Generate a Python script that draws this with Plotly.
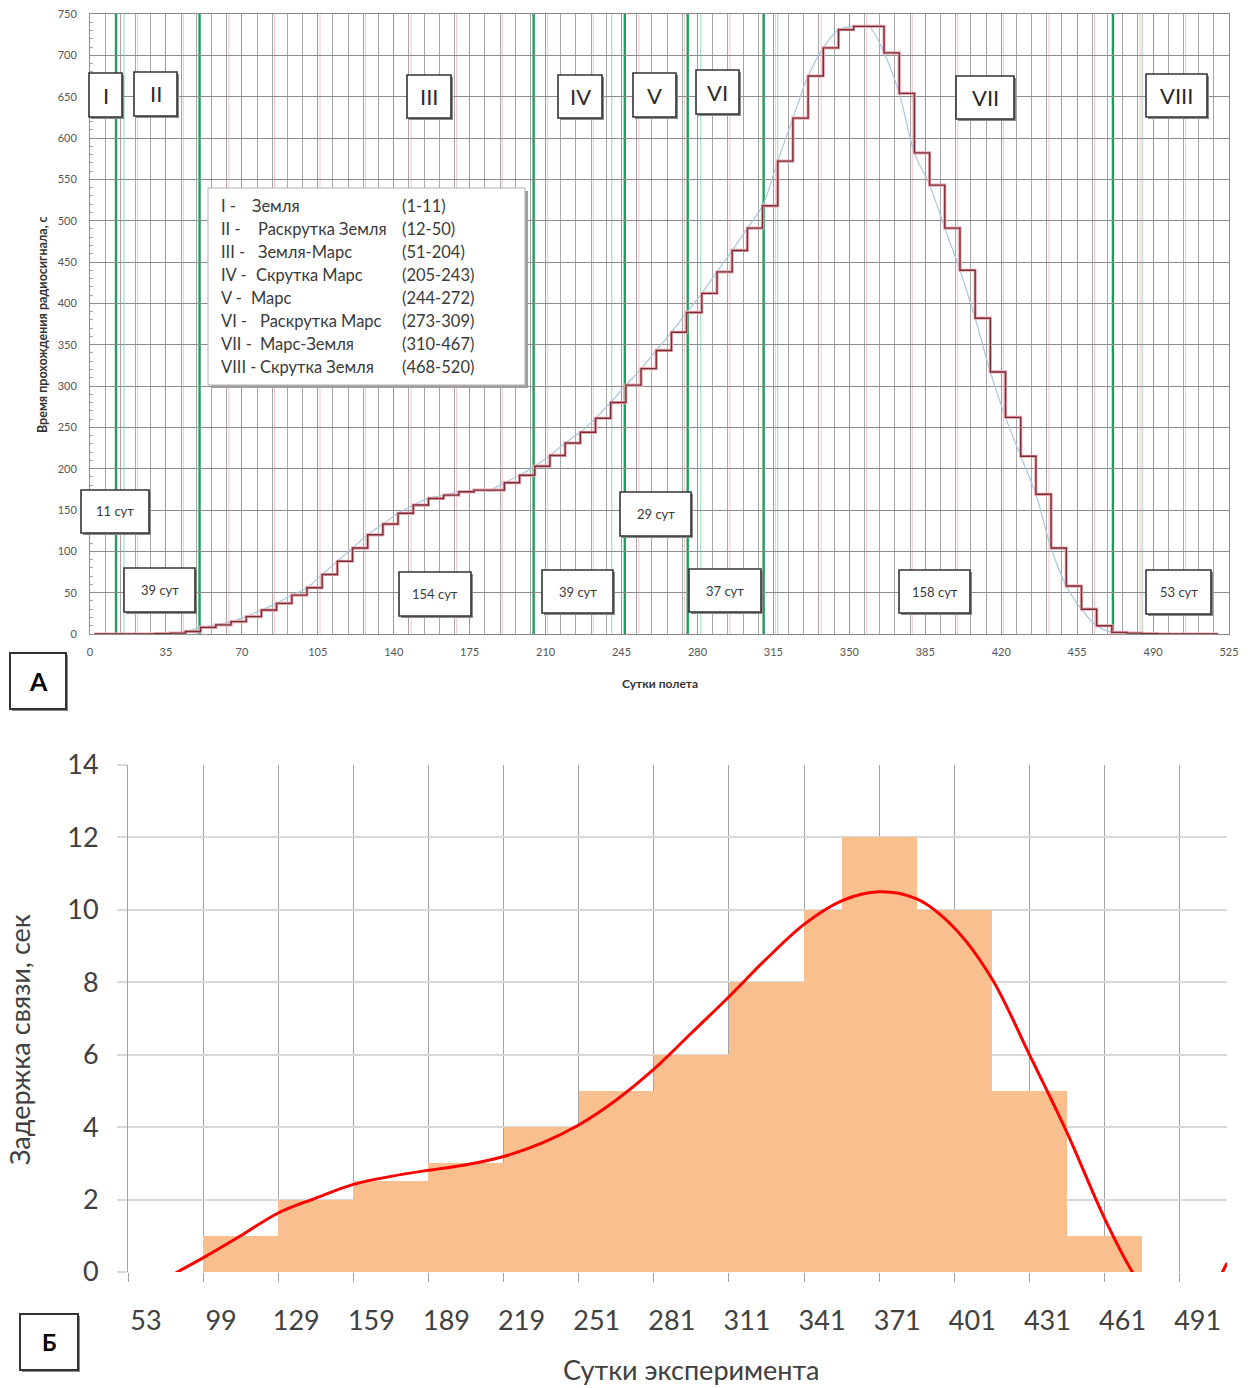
import plotly.graph_objects as go

W, H = 1254, 1388
FONT = "Lato, 'Open Sans', sans-serif"

# ---------- Panel A: signal travel time over the flight ----------
step_days = [2, 9, 16, 23, 30, 37, 44, 51, 58, 65, 72, 79, 86, 93, 100, 107, 114,
             121, 128, 135, 142, 149, 156, 163, 170, 177, 184, 191, 198, 205, 212,
             219, 226, 233, 240, 247, 254, 261, 268, 275, 282, 289, 296, 303, 310,
             317, 324, 331, 338, 345, 352, 359, 366, 373, 380, 387, 394, 401, 408,
             415, 422, 429, 436, 443, 450, 457, 464, 471, 478, 485, 492, 499, 506,
             513, 520]
signal_time = [0, 0, 0, 0, 0.5, 1, 3, 8, 11, 15, 21, 29, 37, 47, 56, 72, 88,
               104, 120, 133, 146, 156, 164, 168, 172, 174, 174, 183, 192, 203, 216,
               231, 244, 261, 280, 301, 321, 343, 365, 389, 412, 438, 464, 491, 518,
               572, 624, 675, 709, 731, 735, 735, 703, 654, 582, 543, 491, 440, 382,
               317, 262, 215, 169, 104, 58, 30, 10, 2, 1, 0.5, 0, 0, 0,
               0, 0]

phase_bounds = [12, 50.5, 204.5, 246.5, 275.5, 310.5, 471.5]
overlay_bounds = [15.7, 240.5, 281.5, 317, 485]
overlay_grid = [22, 43, 64, 85, 106, 127, 148, 169, 190, 211, 232, 253, 274, 295,
                316, 337, 358, 379, 400, 421, 442, 463, 484, 505]

phase_names = ["I", "II", "III", "IV", "V", "VI", "VII", "VIII"]
phase_durations = ["11 сут", "39 сут", "154 сут", "39 сут", "29 сут", "37 сут", "158 сут", "53 сут"]
legend_prefix = ["I -", "II -", "III -", "IV -", "V -", "VI -", "VII -", "VIII -"]
legend_names = ["Земля", "Раскрутка Земля", "Земля-Марс", "Скрутка Марс", "Марс",
                "Раскрутка Марс", "Марс-Земля", "Скрутка Земля"]
legend_ranges = ["(1-11)", "(12-50)", "(51-204)", "(205-243)", "(244-272)",
                 "(273-309)", "(310-467)", "(468-520)"]

# ---------- Panel Б: communication delay ----------
day_labels = ["53", "99", "129", "159", "189", "219", "251", "281", "311", "341",
              "371", "401", "431", "461", "491"]
bin_left = [1, 2, 3, 4, 5, 6, 7, 8, 9, 9.5, 10.5, 11.5, 12.5]
bin_right = [2, 3, 4, 5, 6, 7, 8, 9, 9.5, 10.5, 11.5, 12.5, 13.5]
delay_sec = [1, 2, 2.5, 3, 4, 5, 6, 8, 10, 12, 10, 5, 1]

trend_x = [0.4, 0.66, 1.0, 1.5, 2.0, 2.5, 3.0, 3.5, 4.0, 4.5, 5.0, 5.5, 6.0, 6.5,
           7.0, 7.5, 8.0, 8.5, 9.0, 9.5, 10.0, 10.5, 11.0, 11.5, 12.0, 12.5, 13.0,
           13.37, 13.7, 14.0, 14.3, 14.63]
trend_y = [-0.35, 0, 0.39, 1.0, 1.63, 2.04, 2.42, 2.64, 2.81, 2.96, 3.19, 3.55, 4.06, 4.75,
           5.6, 6.6, 7.6, 8.65, 9.6, 10.25, 10.5, 10.3, 9.5, 8.1, 6.0, 3.85, 1.48,
           0, -1.0, -1.3, -0.9, 0.25]


def px(x):
    return x / W


def py(y):
    return 1 - y / H


fig = go.Figure()

# staircase with a soft pink halo, plus the smooth curve through the same points
fig.add_trace(go.Scatter(x=step_days, y=signal_time, mode="lines", line_shape="spline",
                         line=dict(color="#a9c6dc", width=1.2), xaxis="x", yaxis="y",
                         hoverinfo="skip", showlegend=False))
fig.add_trace(go.Scatter(x=step_days, y=signal_time, mode="lines", line_shape="hv",
                         line=dict(color="#e9a7b1", width=3.2), xaxis="x", yaxis="y",
                         hoverinfo="skip", showlegend=False))
fig.add_trace(go.Scatter(x=step_days, y=signal_time, mode="lines", line_shape="hv",
                         line=dict(color="#7a2e34", width=1.4), xaxis="x", yaxis="y",
                         showlegend=False))

# histogram-like bars of the delay
centers = [(a + b) / 2 for a, b in zip(bin_left, bin_right)]
widths = [b - a for a, b in zip(bin_left, bin_right)]
fig.add_trace(go.Bar(x=centers, y=delay_sec, width=widths, marker=dict(color="#f9bf8f", line_width=0),
                     xaxis="x2", yaxis="y2", showlegend=False))
fig.add_trace(go.Scatter(x=trend_x, y=trend_y, mode="lines", line_shape="spline",
                         line=dict(color="#ff0000", width=3), xaxis="x2", yaxis="y2",
                         showlegend=False))

shapes = []
# thin overlay grid lines (pink) and overlay phase lines (light green)
for d in overlay_grid:
    shapes.append(dict(type="line", xref="x", yref="paper", x0=d, x1=d, y0=py(634), y1=py(14),
                       line=dict(color="#f4c6cd", width=1), layer="below"))
for d in overlay_bounds:
    shapes.append(dict(type="line", xref="x", yref="paper", x0=d, x1=d, y0=py(634), y1=py(14),
                       line=dict(color="#a6e0bd", width=1.2), layer="below"))
for d in phase_bounds:
    shapes.append(dict(type="line", xref="x", yref="paper", x0=d, x1=d, y0=py(634), y1=py(14),
                       line=dict(color="#1f9d5c", width=2.4), layer="below"))

annotations = []


def boxed(text, x0, y0, x1, y1, size, color="#2a2a2a", bold=False, lw=1.6):
    shapes.append(dict(type="rect", xref="paper", yref="paper",
                       x0=px(x0 + 2), x1=px(x1 + 2), y0=py(y1 + 2), y1=py(y0 + 2),
                       fillcolor="#8a8a8a", line_width=0, layer="above"))
    shapes.append(dict(type="rect", xref="paper", yref="paper",
                       x0=px(x0), x1=px(x1), y0=py(y1), y1=py(y0),
                       fillcolor="white", line=dict(color="#333333", width=lw), layer="above"))
    t = "<b>%s</b>" % text if bold else text
    annotations.append(dict(text=t, xref="paper", yref="paper", x=px((x0 + x1) / 2),
                            y=py((y0 + y1) / 2), xanchor="center", yanchor="middle",
                            showarrow=False, font=dict(family=FONT, size=size, color=color)))


roman_boxes = [(89, 73, 122, 117), (134, 72, 177, 116), (407, 75, 451, 118), (558, 75, 602, 118),
               (633, 73, 676, 117), (696, 70, 739, 114), (956, 76, 1014, 119), (1146, 74, 1207, 117)]
for name, (a, b, c, d) in zip(phase_names, roman_boxes):
    boxed(name, a, b, c, d, 22)

dur_boxes = [(81, 490, 149, 533), (124, 568, 195, 612), (399, 572, 471, 616), (542, 570, 613, 613),
             (620, 492, 691, 536), (689, 569, 761, 612), (899, 570, 970, 613), (1146, 570, 1211, 614)]
for name, (a, b, c, d) in zip(phase_durations, dur_boxes):
    boxed(name, a, b, c, d, 13, color="#3a3a3a")

# phase legend box
shapes.append(dict(type="rect", xref="paper", yref="paper", x0=px(211), x1=px(528),
                   y0=py(388), y1=py(191), fillcolor="#a0a0a0", line_width=0, layer="above"))
shapes.append(dict(type="rect", xref="paper", yref="paper", x0=px(208), x1=px(525),
                   y0=py(385), y1=py(188), fillcolor="white",
                   line=dict(color="#b0b0b0", width=1), layer="above"))
name_x = [250, 256, 256, 254, 249, 258, 258, 258]
for i in range(8):
    yy = py(206 + i * 23)
    for txt, xx in ((legend_prefix[i], 219), (legend_names[i], name_x[i]), (legend_ranges[i], 400)):
        annotations.append(dict(text=txt, xref="paper", yref="paper", x=px(xx), y=yy,
                                xanchor="left", yanchor="middle", showarrow=False,
                                font=dict(family=FONT, size=16.5, color="#3a3a3a")))

# panel letters
boxed("А", 10, 653, 66, 709, 25, color="#000000", bold=True, lw=2)
boxed("Б", 20, 1314, 78, 1370, 23, color="#000000", bold=True, lw=2)

# axis titles
annotations.append(dict(text="<b>Сутки полета</b>", xref="paper", yref="paper", x=px(660), y=py(683),
                        xanchor="center", yanchor="middle", showarrow=False,
                        font=dict(family=FONT, size=12, color="#333")))
annotations.append(dict(text="<b>Время прохождения радиосигнала, с</b>", xref="paper", yref="paper",
                        x=px(42), y=py(325), xanchor="center", yanchor="middle", textangle=-90,
                        showarrow=False, font=dict(family=FONT, size=12.5, color="#333")))
annotations.append(dict(text="Сутки эксперимента", xref="paper", yref="paper", x=px(691), y=py(1369),
                        xanchor="center", yanchor="middle", showarrow=False,
                        font=dict(family=FONT, size=27, color="#404040")))
annotations.append(dict(text="Задержка связи, сек", xref="paper", yref="paper", x=px(19), y=py(1040),
                        xanchor="center", yanchor="middle", textangle=-90, showarrow=False,
                        font=dict(family=FONT, size=27, color="#404040")))

fig.update_layout(
    width=W, height=H, margin=dict(l=0, r=0, t=0, b=0, autoexpand=False),
    paper_bgcolor="white", plot_bgcolor="white", showlegend=False, bargap=0,
    shapes=shapes, annotations=annotations,
    xaxis=dict(domain=[px(90), px(1229)], range=[0, 525], anchor="y", automargin=False,
               tick0=0, dtick=35, showgrid=True, gridcolor="#9a9a9a", gridwidth=1,
               minor=dict(tick0=0, dtick=7, showgrid=True, gridcolor="#a6a6a6", gridwidth=1),
               ticks="", tickfont=dict(family=FONT, size=11, color="#555"),
               ticklabelstandoff=8, zeroline=False,
               showline=True, linecolor="#8a8a8a", linewidth=1, mirror=True),
    yaxis=dict(domain=[py(634), py(14)], range=[0, 750], anchor="x", automargin=False,
               tick0=0, dtick=50, showgrid=True, gridcolor="#8c8c8c", gridwidth=1,
               minor=dict(tick0=0, dtick=10, ticks="inside", ticklen=3, tickcolor="#aaaaaa"),
               ticks="", tickfont=dict(family=FONT, size=11, color="#555"),
               ticklabelstandoff=10, zeroline=False,
               showline=True, linecolor="#8a8a8a", linewidth=1, mirror=True),
    xaxis2=dict(domain=[px(128), px(1227)], range=[0, 14.63], anchor="y2", automargin=False,
                tickvals=list(range(15)), ticktext=day_labels, ticklabelshift=18,
                showgrid=True, gridcolor="#a3a3a3", gridwidth=1,
                ticks="outside", ticklen=9, tickcolor="#a3a3a3", tickwidth=1,
                tickfont=dict(family=FONT, size=27, color="#404040"),
                ticklabelstandoff=16, zeroline=False, showline=False),
    yaxis2=dict(domain=[py(1272), py(765)], range=[0, 14], anchor="x2", automargin=False,
                tick0=0, dtick=2, showgrid=True, gridcolor="#d9d9d9", gridwidth=2,
                ticks="outside", ticklen=10, tickcolor="#d9d9d9", tickwidth=2,
                tickfont=dict(family=FONT, size=27, color="#404040"),
                ticklabelstandoff=13, zeroline=False,
                showline=True, linecolor="#a3a3a3", linewidth=1),
)

fig.write_html("out.html")
